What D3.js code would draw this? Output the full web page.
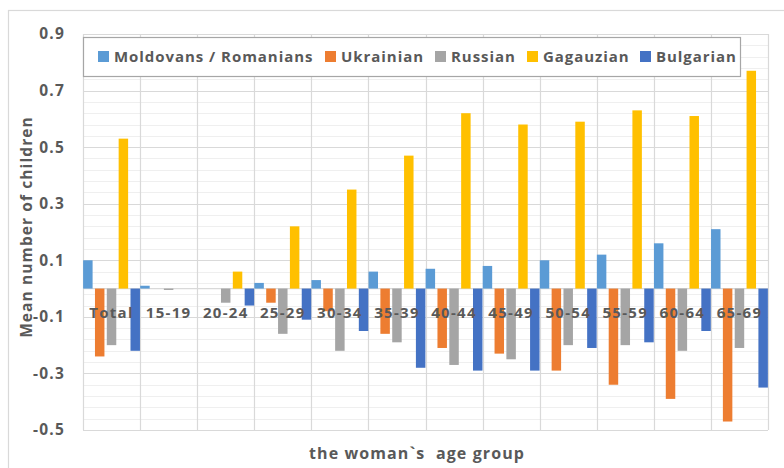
<!DOCTYPE html>
<html>
<head>
<meta charset="utf-8">
<script src="https://cdn.jsdelivr.net/npm/d3@7"></script>
<style>
  html, body { margin: 0; padding: 0; background: #ffffff; }
  svg { display: block; }
  text { font-family: "Open Sans", "Noto Sans", sans-serif; font-weight: 700; fill: #595959; }
</style>
</head>
<body>
<svg id="chart" width="784" height="468"></svg>
<script>
// Age groups along the x axis
const categories = ["Total", "15-19", "20-24", "25-29", "30-34", "35-39", "40-44", "45-49", "50-54", "55-59", "60-64", "65-69"];

// Difference in mean number of children, by ethnic group
const moldovans  = [0.10, 0.01, 0.00, 0.02, 0.03, 0.06, 0.07, 0.08, 0.10, 0.12, 0.16, 0.21];
const ukrainian  = [-0.24, 0.00, 0.00, -0.05, -0.08, -0.16, -0.21, -0.23, -0.29, -0.34, -0.39, -0.47];
const russian    = [-0.20, -0.005, -0.05, -0.16, -0.22, -0.19, -0.27, -0.25, -0.20, -0.20, -0.22, -0.21];
const gagauzian  = [0.53, 0.00, 0.06, 0.22, 0.35, 0.47, 0.62, 0.58, 0.59, 0.63, 0.61, 0.77];
const bulgarian  = [-0.22, 0.00, -0.06, -0.11, -0.15, -0.28, -0.29, -0.29, -0.21, -0.19, -0.15, -0.35];

const seriesNames  = ["Moldovans / Romanians", "Ukrainian", "Russian", "Gagauzian", "Bulgarian"];
const seriesColors = ["#5B9BD5", "#ED7D31", "#A5A5A5", "#FFC000", "#4472C4"];
const seriesValues = [moldovans, ukrainian, russian, gagauzian, bulgarian];

const yTicks = [-0.5, -0.3, -0.1, 0.1, 0.3, 0.5, 0.7, 0.9];

const svg = d3.select("#chart");
const W = 784, H = 468;
const plot = { left: 83, right: 768, top: 34, bottom: 430 };

// Outer chart frame
svg.append("rect").attr("width", W).attr("height", H).attr("fill", "#ffffff");
svg.append("rect")
  .attr("x", 8.5).attr("y", 10.5).attr("width", 820).attr("height", 520)
  .attr("fill", "#ffffff").attr("stroke", "#d9d9d9").attr("stroke-width", 1.2);

const x = d3.scaleBand().domain(categories).range([plot.left, plot.right]).padding(0);
const xs = d3.scaleBand().domain(seriesNames).range([0, x.bandwidth()]).paddingInner(0.2).paddingOuter(0.01);
const y = d3.scaleLinear().domain([-0.5, 0.9]).range([plot.bottom, plot.top]);

// Minor horizontal gridlines
const minor = d3.range(0, 36).map(i => -0.5 + i * 0.04);
svg.append("g").selectAll("line").data(minor).join("line")
  .attr("x1", plot.left).attr("x2", plot.right)
  .attr("y1", d => Math.round(y(d)) + 0.5).attr("y2", d => Math.round(y(d)) + 0.5)
  .attr("stroke", "#efefef").attr("stroke-width", 1);

// Major horizontal gridlines
svg.append("g").selectAll("line").data(yTicks).join("line")
  .attr("x1", plot.left).attr("x2", plot.right)
  .attr("y1", d => Math.round(y(d)) + 0.5).attr("y2", d => Math.round(y(d)) + 0.5)
  .attr("stroke", "#d9d9d9").attr("stroke-width", 1.2);

// Category separators
const bounds = categories.map(c => x(c)).concat([plot.right]);
svg.append("g").selectAll("line").data(bounds).join("line")
  .attr("x1", d => Math.round(d) + 0.5).attr("x2", d => Math.round(d) + 0.5)
  .attr("y1", plot.top).attr("y2", plot.bottom)
  .attr("stroke", "#d9d9d9").attr("stroke-width", 1.2);

// Zero baseline
svg.append("line")
  .attr("x1", plot.left).attr("x2", plot.right)
  .attr("y1", y(0)).attr("y2", y(0))
  .attr("stroke", "#d9d9d9").attr("stroke-width", 1.2);

// Bars
seriesValues.forEach((vals, si) => {
  svg.append("g").selectAll("rect").data(vals).join("rect")
    .attr("x", (d, i) => x(categories[i]) + xs(seriesNames[si]))
    .attr("width", xs.bandwidth())
    .attr("y", d => y(Math.max(0, d)))
    .attr("height", d => Math.abs(y(d) - y(0)))
    .attr("fill", seriesColors[si]);
});

// Y axis labels
const yAxis = d3.axisLeft(y).tickValues(yTicks).tickSize(0).tickPadding(18)
  .tickFormat(d => d.toFixed(1));
const gy = svg.append("g").attr("transform", `translate(${plot.left},0)`).call(yAxis);
gy.select(".domain").remove();
gy.selectAll("text")
  .attr("font-size", 15.5).attr("font-family", null).attr("fill", null)
  .attr("letter-spacing", 1.2);

// Category labels, sitting just under the zero line
svg.append("g").selectAll("text").data(categories).join("text")
  .attr("x", d => x(d) + x.bandwidth() / 2)
  .attr("y", y(0) + 29)
  .attr("text-anchor", "middle")
  .attr("font-size", 15)
  .attr("letter-spacing", 1.3)
  .text(d => d);

// Axis titles
svg.append("text")
  .attr("transform", `translate(32,227) rotate(-90)`)
  .attr("text-anchor", "middle")
  .attr("font-size", 15.5)
  .attr("letter-spacing", 1.1)
  .text("Mean number of children");

svg.append("text")
  .attr("x", 417).attr("y", 459)
  .attr("text-anchor", "middle")
  .attr("font-size", 16)
  .attr("letter-spacing", 1.1)
  .attr("xml:space", "preserve")
  .style("white-space", "pre")
  .text("the woman`s  age group");

// Legend
const legend = svg.append("g");
legend.append("rect")
  .attr("x", 83.5).attr("y", 37.5).attr("width", 657).attr("height", 39)
  .attr("fill", "#ffffff").attr("stroke", "#a6a6a6").attr("stroke-width", 1.2);
const legendX = [98, 325, 435, 527, 640];
seriesNames.forEach((name, i) => {
  legend.append("rect")
    .attr("x", legendX[i]).attr("y", 51).attr("width", 11).attr("height", 11)
    .attr("fill", seriesColors[i]);
  legend.append("text")
    .attr("x", legendX[i] + 16).attr("y", 62)
    .attr("font-size", 15)
    .attr("letter-spacing", 0.95)
    .text(name);
});
</script>
</body>
</html>
